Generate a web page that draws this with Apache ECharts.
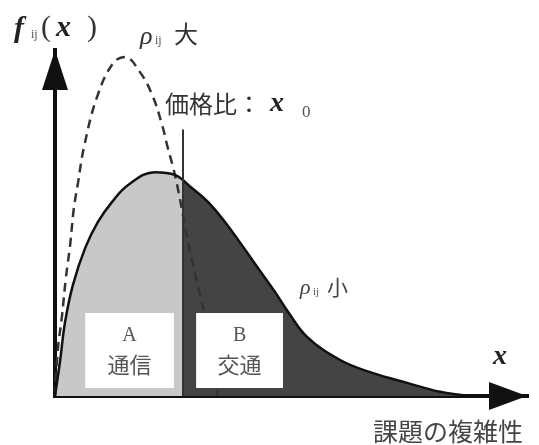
<!DOCTYPE html>
<html>
<head>
<meta charset="utf-8">
<script src="https://cdn.jsdelivr.net/npm/echarts@6/dist/echarts.min.js"></script>
<style>
  html, body { margin: 0; padding: 0; background: #fff; }
  #chart { width: 539px; height: 445px; }
</style>
</head>
<body>
<div id="chart"></div>
<script>
// 実線 (ρij小) の分布
var smallX = [0, 1.1, 2.1, 3.8, 6.4, 9.1, 12.1, 15.5, 21.2, 25.4, 29.0, 32.4, 36.0, 39.6, 43.0, 46.6, 49.4, 53.4, 60.4, 67.4, 74.6, 81.6, 87.9];
var smallY = [0, 10.4, 21.1, 32.1, 42.8, 50.3, 56.1, 61.0, 64.7, 63.9, 60.1, 56.1, 50.3, 43.6, 37.0, 30.1, 24.3, 17.1, 10.4, 6.6, 3.8, 1.2, 0];

// 破線 (ρij大) の分布
var largeX = [0, 0.6, 1.5, 2.3, 3.2, 4.0, 4.9, 6.1, 8.9, 12.3, 14.8, 18.0, 20.6, 22.7, 23.9, 25.0, 26.1, 27.1, 28.2, 29.5, 30.7, 32.2, 33.5, 34.5];
var largeY = [0, 13.3, 23.4, 34.1, 43.6, 54.3, 61.8, 71.7, 86.4, 96.2, 98.0, 93.6, 87.0, 78.3, 71.7, 66.2, 59.5, 52.3, 44.2, 36.4, 29.2, 20.5, 10.4, 0];

// 価格比 x0
var priceRatio = 27;
var priceLineTop = 77;

var boxLetters = ['A', 'B'];
var boxNames = ['通信', '交通'];

var smallData = smallX.map(function (x, i) { return [x, smallY[i]]; });
var largeData = largeX.map(function (x, i) { return [x, largeY[i]]; });

var colorA = '#c8c8c8';
var colorB = '#444444';
var serif = '"Liberation Serif", "DejaVu Serif", serif';
var cjk = '"Noto Sans CJK JP", sans-serif';

function txt(text, x, y, font, color) {
    return {
        type: 'text', x: x, y: y, silent: true,
        style: { text: text, font: font, fill: color || '#333', verticalAlign: 'middle' }
    };
}

var myChart = echarts.init(document.getElementById('chart'));

var axisCommon = {
    type: 'value',
    min: 0,
    max: 100,
    axisTick: { show: false },
    axisLabel: { show: false },
    splitLine: { show: false }
};

var option = {
    animation: false,
    grid: { left: 55, right: 12, top: 50, bottom: 49 },
    xAxis: Object.assign({}, axisCommon, {
        axisLine: {
            show: true,
            symbol: ['none', 'triangle'],
            symbolSize: [28, 38],
            symbolOffset: [0, -19],
            lineStyle: { color: '#111', width: 4, cap: 'square' }
        }
    }),
    yAxis: Object.assign({}, axisCommon, {
        axisLine: {
            show: true,
            symbol: ['none', 'triangle'],
            symbolSize: [26, 40],
            symbolOffset: [0, -20],
            lineStyle: { color: '#111', width: 4, cap: 'square' }
        }
    }),
    series: [
        {
            // A / B 領域の塗り
            type: 'line',
            data: smallData,
            smooth: 0.4,
            showSymbol: false,
            silent: true,
            z: 1,
            lineStyle: { width: 0 },
            areaStyle: { opacity: 1, color: colorA }
        },
        {
            // ρij大
            type: 'line',
            data: largeData,
            smooth: 0.4,
            showSymbol: false,
            silent: true,
            z: 2,
            lineStyle: { color: '#333', width: 2.5, type: [9, 6] }
        },
        {
            // ρij小
            type: 'line',
            data: smallData,
            smooth: 0.4,
            showSymbol: false,
            silent: true,
            z: 4,
            lineStyle: { color: '#111', width: 2.5 },
            markArea: {
                silent: true,
                z: 3,
                itemStyle: { color: '#fff' },
                label: {
                    show: true,
                    position: 'inside',
                    formatter: function (p) {
                        return '{l|' + boxLetters[p.dataIndex] + '}\n{n|' + p.name + '}';
                    },
                    rich: {
                        l: { fontFamily: serif, fontSize: 20, lineHeight: 28, color: '#555' },
                        n: { fontFamily: cjk, fontSize: 22, lineHeight: 30, color: '#555' }
                    }
                },
                data: [
                    [{ name: boxNames[0], coord: [6.4, 2.3] }, { coord: [25.2, 24.0] }],
                    [{ name: boxNames[1], coord: [29.9, 2.3] }, { coord: [48.3, 24.0] }]
                ]
            },
            markLine: {
                silent: true,
                symbol: ['none', 'none'],
                label: { show: false },
                lineStyle: { type: 'solid', color: '#333', width: 2 },
                data: [[{ coord: [priceRatio, 0] }, { coord: [priceRatio, priceLineTop] }]]
            }
        }
    ],
    graphic: [
        // f_ij(x)
        txt('f', 14, 29, 'italic bold 30px ' + serif, '#222'),
        txt('ij', 31, 35, '12px ' + serif, '#555'),
        txt('(', 41, 28, '30px ' + serif, '#333'),
        txt('x', 56, 28, 'italic bold 30px ' + serif, '#222'),
        txt(')', 87, 28, '30px ' + serif, '#333'),
        // ρij大
        txt('ρ', 140, 37, 'italic 26px ' + serif, '#333'),
        txt('ij', 155, 41, '12px ' + serif, '#555'),
        txt('大', 174, 34, '24px ' + cjk, '#333'),
        // 価格比：x0
        txt('価格比：', 165, 104, '24px ' + cjk, '#333'),
        txt('x', 270, 104, 'italic bold 28px ' + serif, '#222'),
        txt('0', 302, 113, '17px ' + serif, '#555'),
        // ρij小
        txt('ρ', 300, 288, 'italic 22px ' + serif, '#444'),
        txt('ij', 313, 292, '11px ' + serif, '#555'),
        txt('小', 327, 287, '21px ' + cjk, '#444'),
        // x 軸
        txt('x', 493, 357, 'italic bold 28px ' + serif, '#222'),
        txt('課題の複雑性', 373, 431, '25px ' + cjk, '#444')
    ]
};

myChart.setOption(option);

// x0 を境に塗り色を切り替える
var splitPx = myChart.convertToPixel({ xAxisIndex: 0 }, priceRatio);
var splitAt = splitPx / 539;
myChart.setOption({
    series: [{
        areaStyle: {
            color: {
                type: 'linear', x: 0, y: 0, x2: 539, y2: 0, global: true,
                colorStops: [
                    { offset: 0, color: colorA },
                    { offset: splitAt, color: colorA },
                    { offset: splitAt, color: colorB },
                    { offset: 1, color: colorB }
                ]
            }
        }
    }]
});
</script>
</body>
</html>
